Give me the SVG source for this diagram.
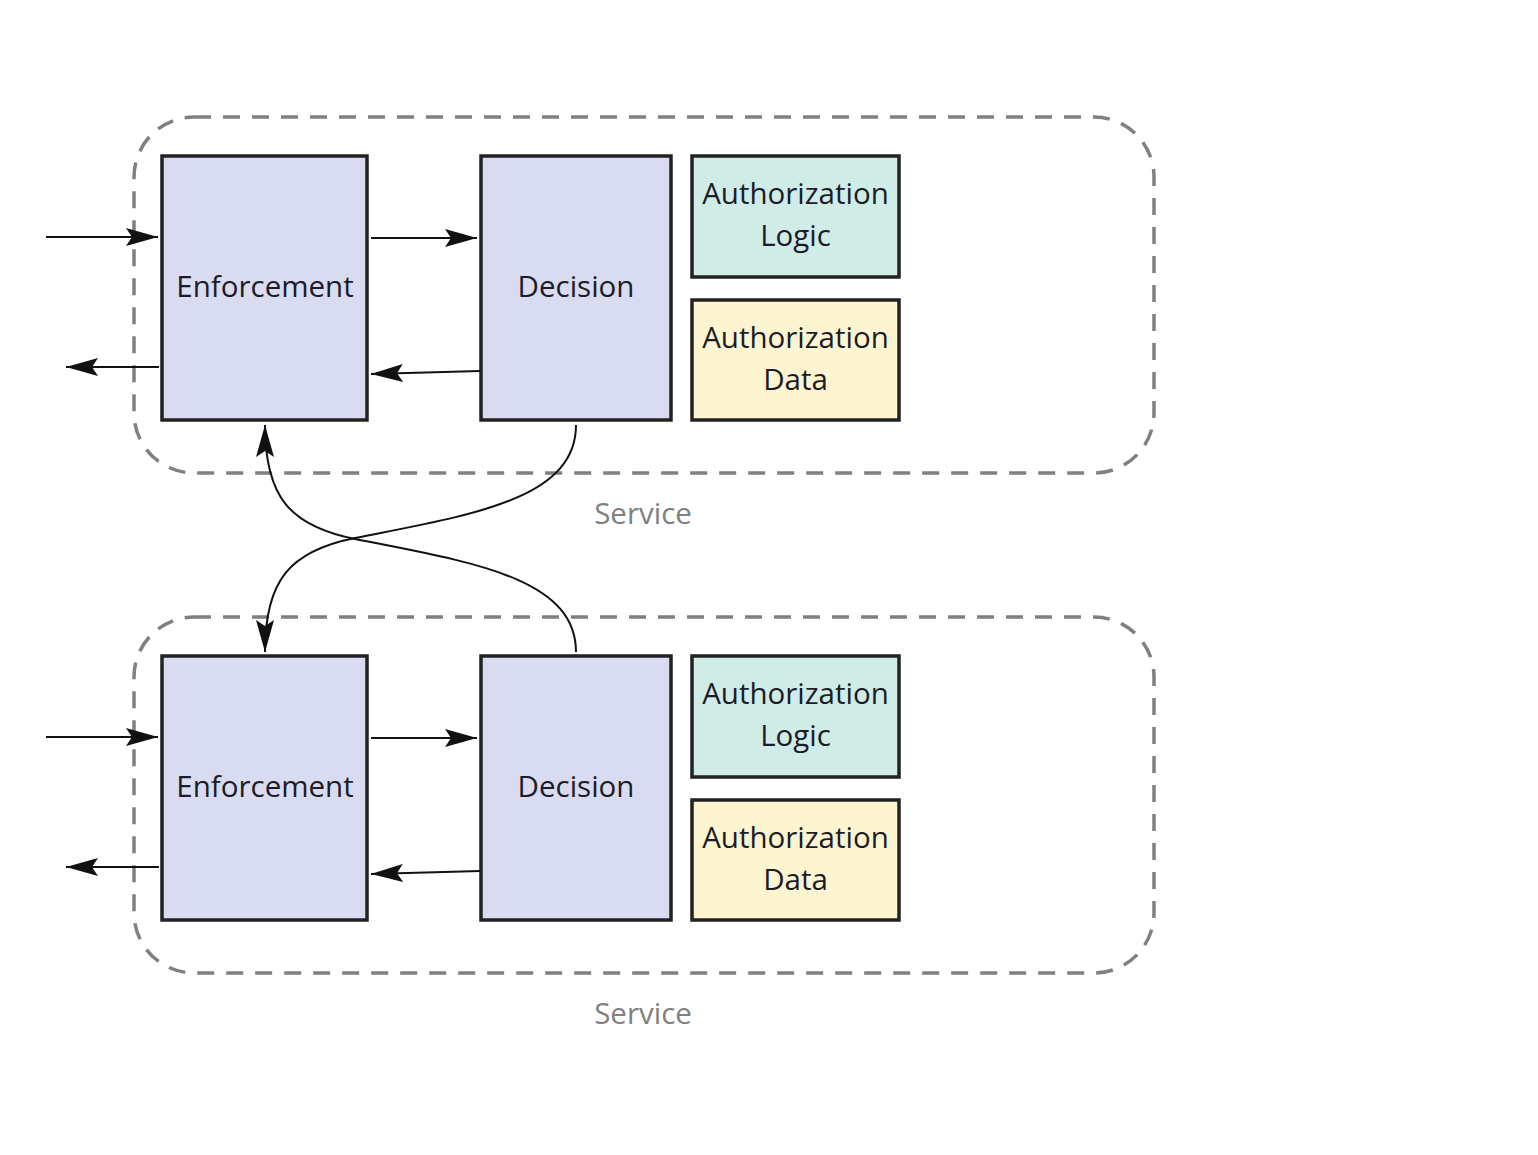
<svg xmlns="http://www.w3.org/2000/svg" width="1538" height="1155" viewBox="0 0 1538 1155">
<style>
.svc{fill:none;stroke:#808080;stroke-width:3.5;stroke-dasharray:17 12}
.box{stroke:#222;stroke-width:3.5}
.pur{fill:#d9dbf0}
.grn{fill:#cfece6}
.yel{fill:#fdf5d0}
.t{font-family:"Open Sans","Noto Sans",sans-serif;font-size:29.5px;fill:#1c1c28;text-anchor:middle}
.lbl{font-family:"Open Sans","Noto Sans",sans-serif;font-size:29.5px;fill:#808080;text-anchor:middle}
.c{fill:none;stroke:#111;stroke-width:2}
</style>
<defs>
<marker id="ah" markerUnits="userSpaceOnUse" markerWidth="34" markerHeight="22" viewBox="-32 -11 34 22" refX="0" refY="0" orient="auto">
<path d="M0,0 L-32,-9 L-26,0 L-32,9 Z" fill="#111"/>
</marker>
</defs>
<rect width="1538" height="1155" fill="#fff"/>
<g id="service1">
<rect class="svc" x="134" y="117" width="1020" height="356" rx="60" ry="60"/>
<text class="lbl" x="643" y="524">Service</text>
</g>
<g id="service2">
<rect class="svc" x="134" y="617" width="1020" height="356" rx="60" ry="60"/>
<text class="lbl" x="643" y="1024">Service</text>
</g>
<g id="enforcement1">
<rect class="box pur" x="162" y="156" width="205" height="264"/>
<text class="t" x="265" y="297">Enforcement</text>
</g>
<g id="decision1">
<rect class="box pur" x="481" y="156" width="190" height="264"/>
<text class="t" x="576" y="297">Decision</text>
</g>
<g id="authlogic1">
<rect class="box grn" x="692" y="156" width="207" height="121"/>
<text class="t" x="795.500" y="204">Authorization</text>
<text class="t" x="795.500" y="246">Logic</text>
</g>
<g id="authdata1">
<rect class="box yel" x="692" y="300" width="207" height="120"/>
<text class="t" x="795.500" y="348">Authorization</text>
<text class="t" x="795.500" y="390">Data</text>
</g>
<g id="enforcement2">
<rect class="box pur" x="162" y="656" width="205" height="264"/>
<text class="t" x="265" y="797">Enforcement</text>
</g>
<g id="decision2">
<rect class="box pur" x="481" y="656" width="190" height="264"/>
<text class="t" x="576" y="797">Decision</text>
</g>
<g id="authlogic2">
<rect class="box grn" x="692" y="656" width="207" height="121"/>
<text class="t" x="795.500" y="704">Authorization</text>
<text class="t" x="795.500" y="746">Logic</text>
</g>
<g id="authdata2">
<rect class="box yel" x="692" y="800" width="207" height="120"/>
<text class="t" x="795.500" y="848">Authorization</text>
<text class="t" x="795.500" y="890">Data</text>
</g>
<g id="connectors">
<path class="c" d="M46,237 L158,237" marker-end="url(#ah)"/>
<path class="c" d="M159,367 L66,367" marker-end="url(#ah)"/>
<path class="c" d="M371,238 L477,238" marker-end="url(#ah)"/>
<path class="c" d="M480,371 L371,374" marker-end="url(#ah)"/>
<path class="c" d="M46,737 L158,737" marker-end="url(#ah)"/>
<path class="c" d="M159,867 L66,867" marker-end="url(#ah)"/>
<path class="c" d="M371,738 L477,738" marker-end="url(#ah)"/>
<path class="c" d="M480,871 L371,874" marker-end="url(#ah)"/>
<path class="c" d="M576,425 C576,500 470,515 355,538 C290,551 265,580 265,652" marker-end="url(#ah)"/>
<path class="c" d="M576,652 C576,577 470,562 355,539 C290,526 265,497 265,425" marker-end="url(#ah)"/>
</g>
</svg>
